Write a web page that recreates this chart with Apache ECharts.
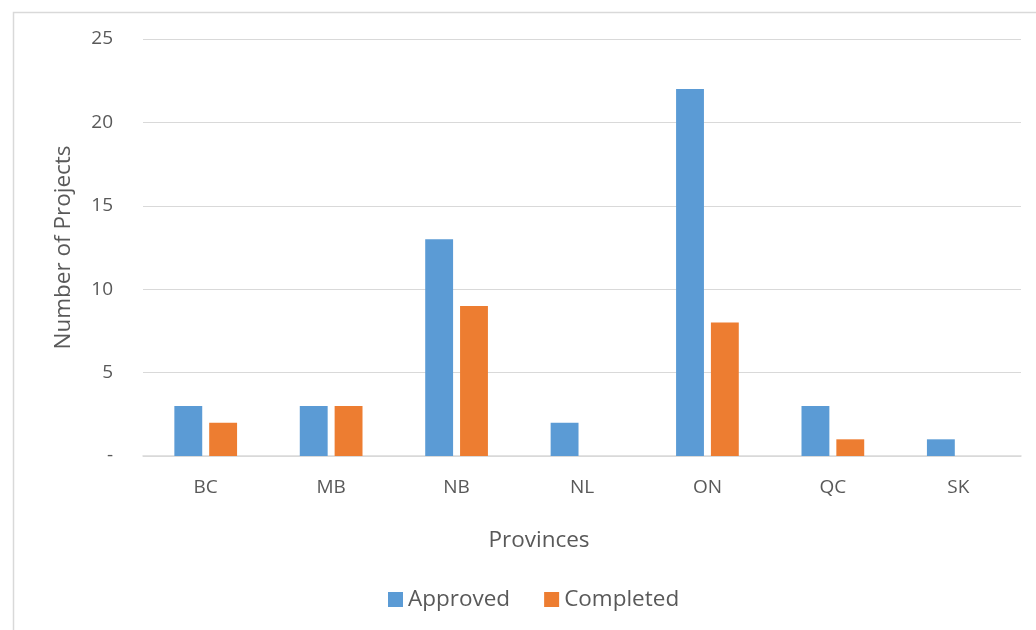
<!DOCTYPE html>
<html>
<head>
<meta charset="utf-8">
<script src="https://cdn.jsdelivr.net/npm/echarts@6/dist/echarts.min.js"></script>
<style>html,body{margin:0;padding:0;background:#fff;}#c{width:1036px;height:630px;}</style>
</head>
<body>
<div id="c"></div>
<script>
const categories = ['BC', 'MB', 'NB', 'NL', 'ON', 'QC', 'SK'];
const approved = [3, 3, 13, 2, 22, 3, 1];
const completed = [2, 3, 9, 0, 8, 1, 0];
const seriesNames = ['Approved', 'Completed'];
const yTicks = { min: 0, max: 25, interval: 5 };

const FONT = 'Open Sans';
const TXT = '#595959';
const chart = echarts.init(document.getElementById('c'), null, { renderer: 'canvas' });
chart.setOption({
  animation: false,
  backgroundColor: '#fff',
  textStyle: { fontFamily: FONT, color: TXT },
  graphic: [{
    type: 'rect', left: 11, top: 10, silent: true,
    shape: { width: 1100, height: 700 },
    style: { fill: 'none', stroke: '#D9D9D9', lineWidth: 1.5 }
  }],
  grid: { left: 143, right: 15, top: 39, bottom: 174 },
  legend: {
    data: seriesNames, top: 583, left: 383,
    icon: 'rect', itemWidth: 15, itemHeight: 15, itemGap: 34,
    textStyle: { fontFamily: FONT, fontSize: 22.5, color: TXT }
  },
  xAxis: {
    type: 'category', data: categories,
    name: 'Provinces', nameLocation: 'middle', nameGap: 73,
    nameTextStyle: { fontFamily: FONT, fontSize: 22.5, color: TXT, padding: [0, 86, 0, 0] },
    axisLine: { lineStyle: { color: '#D9D9D9', width: 1.5 } },
    axisTick: { show: false },
    axisLabel: { margin: 22, fontFamily: FONT, fontSize: 19, color: TXT }
  },
  yAxis: {
    type: 'value', min: yTicks.min, max: yTicks.max, interval: yTicks.interval,
    name: 'Number of Projects', nameLocation: 'middle', nameGap: 68,
    nameTextStyle: { fontFamily: FONT, fontSize: 22.5, color: TXT },
    axisLine: { show: false }, axisTick: { show: false },
    splitLine: { lineStyle: { color: '#D9D9D9', width: 1 } },
    axisLabel: { margin: 30, fontFamily: FONT, fontSize: 19, color: TXT,
      formatter: v => v === 0 ? '-' : String(v) }
  },
  series: [
    { name: seriesNames[0], type: 'bar', data: approved, barGap: '25%', barCategoryGap: '50%',
      itemStyle: { color: '#5B9BD5' } },
    { name: seriesNames[1], type: 'bar', data: completed, barGap: '25%', barCategoryGap: '50%',
      itemStyle: { color: '#ED7D31' } }
  ]
});
</script>
</body>
</html>
